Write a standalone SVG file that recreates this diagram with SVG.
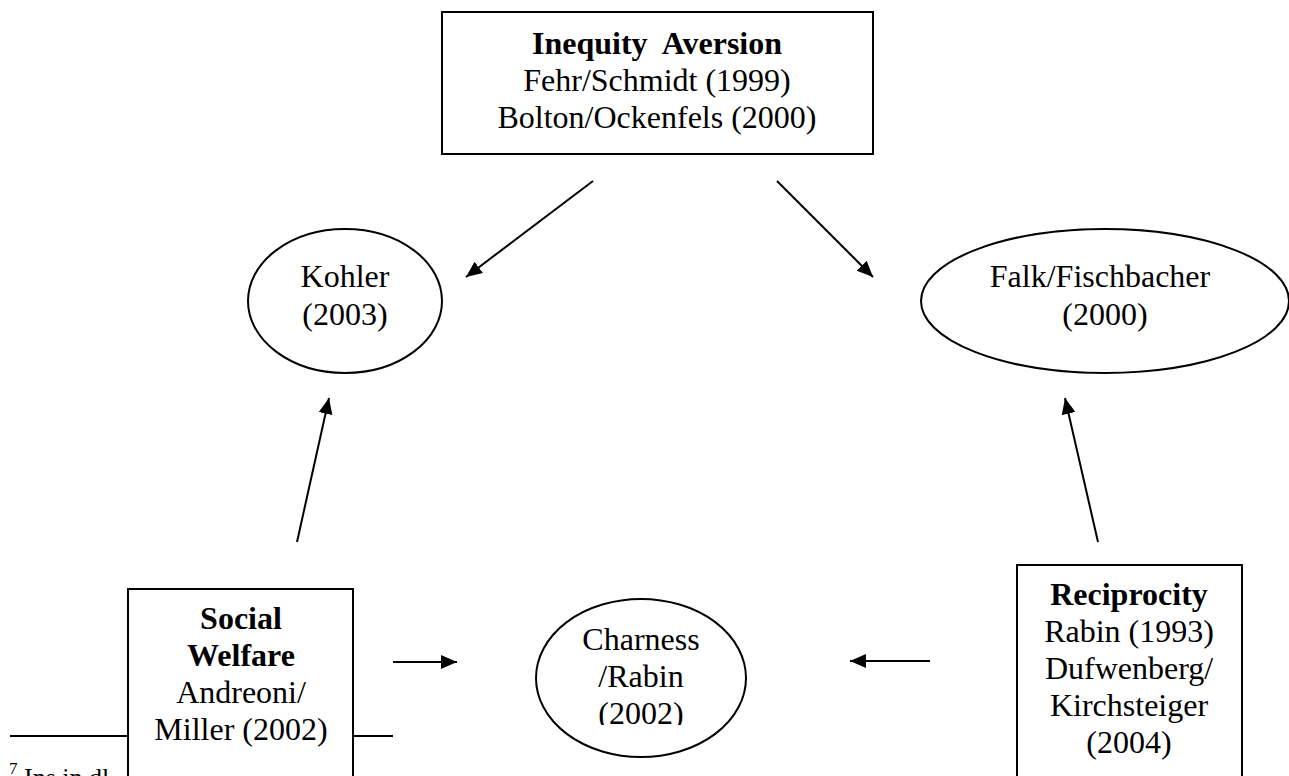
<svg xmlns="http://www.w3.org/2000/svg" width="1289" height="776" viewBox="0 0 1289 776">
  <style>
    text { font-family: "Liberation Serif", "Times New Roman", serif; font-size: 32px; fill: #000; text-anchor: middle; }
    .b { font-weight: bold; }
    .shape { fill: #fff; stroke: #000; stroke-width: 2; }
    .conn line { stroke: #000; stroke-width: 2; marker-end: url(#arrow); }
    .foot { text-anchor: start; font-size: 26px; }
  </style>
  <defs>
    <marker id="arrow" markerUnits="userSpaceOnUse" markerWidth="17" markerHeight="15" refX="16" refY="7" orient="auto">
      <path d="M0,0 L16,7 L0,14 z" fill="#000"/>
    </marker>
    <clipPath id="clipCharness">
      <rect x="530" y="590" width="230" height="135"/>
    </clipPath>
  </defs>
  <rect width="1289" height="776" fill="#fff"/>

  <g id="footnote">
    <line x1="10" y1="736" x2="393" y2="736" stroke="#000" stroke-width="2"/>
    <text class="foot" x="9" y="786"><tspan font-size="17" dy="-12">7</tspan><tspan dy="12"> Ins in dl</tspan></text>
  </g>

  <g id="inequity-aversion">
    <rect class="shape" x="442" y="12" width="431" height="142"/>
    <text x="657" y="54" class="b" xml:space="preserve">Inequity  Aversion</text>
    <text x="657" y="91">Fehr/Schmidt (1999)</text>
    <text x="657" y="128">Bolton/Ockenfels (2000)</text>
  </g>

  <g id="kohler">
    <ellipse class="shape" cx="345" cy="301" rx="97" ry="72"/>
    <text x="345" y="287">Kohler</text>
    <text x="345" y="325">(2003)</text>
  </g>

  <g id="falk-fischbacher">
    <ellipse class="shape" cx="1105" cy="301" rx="184" ry="72"/>
    <text x="1100" y="287">Falk/Fischbacher</text>
    <text x="1105" y="325">(2000)</text>
  </g>

  <g id="social-welfare">
    <rect class="shape" x="128" y="589" width="225" height="200"/>
    <text x="241" y="629" class="b">Social</text>
    <text x="241" y="666" class="b">Welfare</text>
    <text x="241" y="703">Andreoni/</text>
    <text x="241" y="740">Miller (2002)</text>
  </g>

  <g id="charness-rabin">
    <ellipse class="shape" cx="641" cy="678" rx="105" ry="79"/>
    <g clip-path="url(#clipCharness)">
      <text x="641" y="650">Charness</text>
      <text x="641" y="687">/Rabin</text>
      <text x="641" y="724">(2002)</text>
    </g>
  </g>

  <g id="reciprocity">
    <rect class="shape" x="1017" y="565" width="225" height="220"/>
    <text x="1129" y="605" class="b">Reciprocity</text>
    <text x="1129" y="642">Rabin (1993)</text>
    <text x="1129" y="679">Dufwenberg/</text>
    <text x="1129" y="716">Kirchsteiger</text>
    <text x="1129" y="753">(2004)</text>
  </g>

  <g id="connectors" class="conn">
    <line x1="593" y1="181" x2="466" y2="277"/>
    <line x1="777" y1="181" x2="873" y2="277"/>
    <line x1="297" y1="542" x2="329" y2="398"/>
    <line x1="1098" y1="542" x2="1065" y2="398"/>
    <line x1="393" y1="662" x2="457" y2="662"/>
    <line x1="930" y1="661" x2="850" y2="661"/>
  </g>
</svg>
